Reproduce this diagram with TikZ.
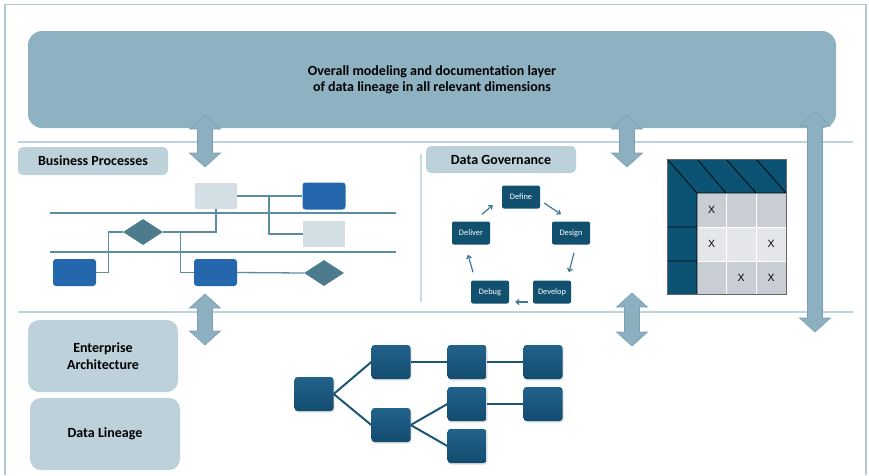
\documentclass[tikz,border=0pt]{standalone}
\usepackage{fontspec}
\setmainfont{Carlito}
\newfontfamily\xfont{Liberation Sans}
\usetikzlibrary{arrows.meta,shapes.geometric,shadows}
\definecolor{framec}{HTML}{B3CAD5}
\definecolor{bigc}{HTML}{8FB2C2}
\definecolor{lblc}{HTML}{BDD1DA}
\definecolor{sepc}{HTML}{BCD2DC}
\definecolor{arrfill}{HTML}{8DB0C1}
\definecolor{arrline}{HTML}{7A9FB1}
\definecolor{lanec}{HTML}{5C8EA3}
\definecolor{bluec}{HTML}{2467AC}
\definecolor{lightc}{HTML}{D4DFE5}
\definecolor{diac}{HTML}{4D7B8E}
\definecolor{cycc}{HTML}{12506F}
\definecolor{cycarr}{HTML}{3C7A96}
\definecolor{matdark}{HTML}{0C5373}
\definecolor{matgray}{HTML}{C9CED4}
\definecolor{matlight}{HTML}{E4E6E9}
\definecolor{treetop}{HTML}{22628A}
\definecolor{treebot}{HTML}{134C70}
\definecolor{treeline}{HTML}{1D5575}
\definecolor{divc}{HTML}{C9D9E0}
\newcommand{\dbarrow}[3]{%
  \filldraw[fill=arrfill,draw=arrline,line width=0.6pt,line join=miter]
  (#1,#2) -- (#1+15.5,#2+14) -- (#1+7.5,#2+14) -- (#1+7.5,#3-14) -- (#1+15.5,#3-14)
  -- (#1,#3) -- (#1-15.5,#3-14) -- (#1-7.5,#3-14) -- (#1-7.5,#2+14) -- (#1-15.5,#2+14) -- cycle;}
\tikzset{
  bigbox/.style={fill=bigc,rounded corners=14pt,inner sep=0pt,align=center,
    font=\fontsize{14}{16}\selectfont\bfseries},
  lblbox/.style={fill=lblc,rounded corners=5pt,inner sep=0pt,align=center,
    font=\fontsize{14}{16}\selectfont\bfseries},
  bigboxlow/.style={fill=lblc,rounded corners=11pt,inner sep=0pt,align=center,
    minimum width=150pt,minimum height=72pt,font=\fontsize{14}{16.5}\selectfont\bfseries},
  bluebox/.style={fill=bluec,rounded corners=3pt,minimum width=43pt,minimum height=27pt,inner sep=0pt},
  lightbox/.style={fill=lightc,minimum width=42pt,minimum height=26pt,inner sep=0pt},
  dia/.style={diamond,fill=diac,minimum width=40pt,minimum height=26pt,inner sep=0pt},
  lane/.style={draw=lanec,line width=1.1pt},
  conn/.style={draw=lanec,line width=1.3pt},
  cyc/.style={fill=cycc,rounded corners=2pt,minimum width=38pt,minimum height=23pt,inner sep=0pt,
    text=white,font=\fontsize{8.4}{9}\selectfont},
  cycarrow/.style={draw=cycarr,line width=1.2pt,-{Straight Barb[length=3pt,width=5pt]}},
  treenode/.style={rounded corners=3pt,top color=treetop,bottom color=treebot,
    minimum width=39pt,minimum height=34pt,inner sep=0pt,
    drop shadow={shadow xshift=1pt,shadow yshift=-1.5pt,opacity=0.25}},
  treeedge/.style={draw=treeline,line width=2pt},
  xmark/.style={font=\xfont\fontsize{10.5}{12}\selectfont}
}
\begin{document}
\begin{tikzpicture}[x=1pt,y=-1pt]
\useasboundingbox (0,0) rectangle (869,475);
\fill[white] (0,0) rectangle (869,475);
\draw[framec,line width=1.2pt] (5,475) -- (5,4.5) -- (866,4.5) -- (866,475);

% top layer
\node[bigbox,minimum width=808pt,minimum height=97pt] (top) at (432,79.5)
  {Overall modeling and documentation layer\\of data lineage in all relevant dimensions};

% separators
\draw[sepc,line width=2.5pt] (18,142) -- (853,142);
\draw[sepc,line width=2.5pt] (18,312) -- (853,312);
\draw[divc,line width=2pt] (421,154) -- (421,302);

% arrows
\dbarrow{205}{115}{167}
\dbarrow{627}{115}{167}
\dbarrow{815}{112}{332}
\dbarrow{205}{294}{345}
\dbarrow{632}{293}{346}

% Business processes
\node[lblbox,minimum width=150pt,minimum height=28pt] (bp) at (93,161) {Business Processes};
\draw[lane] (50,213) -- (396,213);
\draw[lane] (50,252) -- (396,252);
\node[lightbox] (lb1) at (216,196) {};
\node[bluebox] (bA) at (324,196) {};
\node[lightbox] (lb2) at (324,234) {};
\node[dia] (d1) at (143,232) {};
\node[bluebox] (bB) at (74.5,272.5) {};
\node[bluebox] (bC) at (215.5,272.5) {};
\node[dia] (d2) at (324,273) {};
\coordinate (j1) at (269,196);
\draw[conn] (lb1.east) -- (bA.west);
\draw[conn] (j1) |- (lb2.west);
\draw[conn] (lb1.south) |- (d1.east);
\draw[conn] (bB.east) -- ++(12,0) |- (d1.west);
\draw[conn] (d1.east) -- ++(17,0) |- (bC.west);
\draw[conn] (bC.east) -- (d2.west);

% Data governance
\node[lblbox,minimum width=150pt,minimum height=27pt] (dg) at (501,159.5) {Data Governance};
\node[cyc] (define) at (521,197) {Define};
\node[cyc] (design) at (571,233) {Design};
\node[cyc] (develop) at (552,292) {Develop};
\node[cyc] (debug) at (490,292) {Debug};
\node[cyc] (deliver) at (471,233) {Deliver};
\draw[cycarrow] ([shift={(4,6)}]define.east) -- ([shift={(-10,-7)}]design.north);
\draw[cycarrow] ([shift={(3,8)}]design.south) -- ([shift={(17,-8)}]develop.north);
\draw[cycarrow] ([shift={(-5,10)}]develop.west) -- ([shift={(6,10)}]debug.east);
\draw[cycarrow] ([shift={(-17,-8)}]debug.north) -- ([shift={(-3,10)}]deliver.south);
\draw[cycarrow] ([shift={(11,-7)}]deliver.north) -- ([shift={(-9,8)}]define.west);

% matrix
\fill[matdark] (667,159) rectangle (786,193);
\fill[matdark] (667,193) rectangle (697,294);
\fill[matgray] (697,193) rectangle (786,227);
\fill[matlight] (697,227) rectangle (786,261);
\fill[matgray] (697,261) rectangle (786,294);
\draw[white,line width=0.8pt] (726,193) -- (726,294) (756,193) -- (756,294)
  (697,227) -- (786,227) (697,261) -- (786,261);
\draw[black,line width=0.7pt] (667,159) -- (697,193) (697,159) -- (726,193)
  (726,159) -- (756,193) (756,159) -- (786,193)
  (697,193) -- (786,193) (697,193) -- (697,294)
  (667,227) -- (697,227) (667,261) -- (697,261);
\draw[gray!80!black,line width=0.8pt] (667,159) rectangle (786,294);
\node[xmark] (x11) at (711.5,210) {X};
\node[xmark] (x21) at (711.5,244) {X};
\node[xmark] (x23) at (771,244) {X};
\node[xmark] (x32) at (741,277.5) {X};
\node[xmark] (x33) at (771,277.5) {X};

% lower boxes
\node[bigboxlow] (ea) at (103,356) {Enterprise\\Architecture};
\node[bigboxlow] (dl) at (105,434) {Data Lineage};

% tree
\node[treenode] (root) at (314,394) {};
\node[treenode] (n1) at (391,362) {};
\node[treenode] (n2) at (391,425) {};
\node[treenode] (n3) at (467,362) {};
\node[treenode] (n4) at (543,362) {};
\node[treenode] (n5) at (467,404) {};
\node[treenode] (n6) at (543,404) {};
\node[treenode] (n7) at (467,446) {};
\draw[treeedge] (root.east) -- (n1.west);
\draw[treeedge] (root.east) -- (n2.west);
\draw[treeedge] (n1.east) -- (n3.west);
\draw[treeedge] (n3.east) -- (n4.west);
\draw[treeedge] (n2.east) -- (n5.west);
\draw[treeedge] (n2.east) -- (n7.west);
\draw[treeedge] (n5.east) -- (n6.west);
\end{tikzpicture}
\end{document}
